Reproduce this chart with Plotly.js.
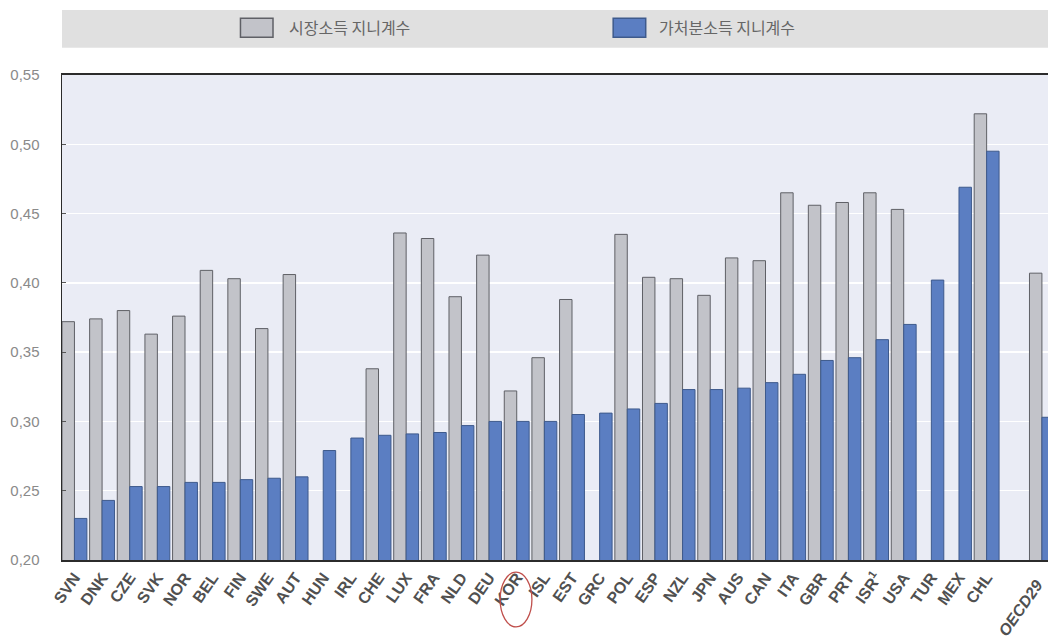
<!DOCTYPE html>
<html>
<head>
<meta charset="utf-8">
<script src="https://cdn.plot.ly/plotly-3.0.1.min.js"></script>
<style>
  html, body { margin: 0; padding: 0; overflow: hidden; background: #fff; }
  #chart { width: 1048px; height: 640px; }
</style>
</head>
<body>
<div id="chart"></div>
<script>
// Country codes in drawing order; the blank slot separates the OECD average.
const countries = ['SVN','DNK','CZE','SVK','NOR','BEL','FIN','SWE','AUT','HUN','IRL','CHE','LUX','FRA','NLD','DEU','KOR','ISL','EST','GRC','POL','ESP','NZL','JPN','AUS','CAN','ITA','GBR','PRT','ISR','USA','TUR','MEX','CHL',' ','OECD29'];

// Axis labels shown under each slot.
const tickLabels = ['SVN','DNK','CZE','SVK','NOR','BEL','FIN','SWE','AUT','HUN','IRL','CHE','LUX','FRA','NLD','DEU','KOR','ISL','EST','GRC','POL','ESP','NZL','JPN','AUS','CAN','ITA','GBR','PRT','ISR<sup>1</sup>','USA','TUR','MEX','CHL','','<i>OECD29</i>&nbsp;&nbsp;'];

// Gini coefficient of market income (before taxes and transfers).
const marketGini = [0.372,0.374,0.380,0.363,0.376,0.409,0.403,0.367,0.406,null,null,0.338,0.436,0.432,0.390,0.420,0.322,0.346,0.388,null,0.435,0.404,0.403,0.391,0.418,0.416,0.465,0.456,0.458,0.465,0.453,null,null,0.522,null,0.407];

// Gini coefficient of disposable income (after taxes and transfers).
const disposableGini = [0.230,0.243,0.253,0.253,0.256,0.256,0.258,0.259,0.260,0.279,0.288,0.290,0.291,0.292,0.297,0.300,0.300,0.300,0.305,0.306,0.309,0.313,0.323,0.323,0.324,0.328,0.334,0.344,0.346,0.359,0.370,0.402,0.469,0.495,null,0.303];

const seriesNames = ['시장소득 지니계수', '가처분소득 지니계수'];
const highlighted = 'KOR';

const seriesFill = ['#c2c3c9', '#5b7ec2'];
const seriesEdge = ['#5f6066', '#3e5a8c'];

const latinFont = 'Liberation Sans, Arial, sans-serif';
const narrowFont = 'Liberation Sans Narrow, Liberation Sans, Arial, sans-serif';
const koreanFont = 'Noto Sans CJK KR, sans-serif';

const traces = seriesNames.map((name, i) => ({
  type: 'bar',
  name: name,
  x: countries,
  y: i === 0 ? marketGini : disposableGini,
  marker: { color: seriesFill[i], line: { color: seriesEdge[i], width: 1 } },
  hoverinfo: 'x+y'
}));

const hi = countries.indexOf(highlighted);

// Legend: swatch boxes and captions placed in the grey band above the plot.
const swatchX = [[0.181, 0.214], [0.559, 0.592]];
const captionX = [0.228, 0.603];

const legendShapes = seriesNames.map((name, i) => ({
  type: 'rect', xref: 'paper', yref: 'paper',
  x0: swatchX[i][0], x1: swatchX[i][1], y0: 1.078, y1: 1.117,
  fillcolor: seriesFill[i], line: { color: seriesEdge[i], width: 1.5 }
}));

const legendCaptions = seriesNames.map((name, i) => ({
  xref: 'paper', yref: 'paper',
  x: captionX[i], y: 1.098, xanchor: 'left', yanchor: 'middle',
  text: name, showarrow: false,
  font: { family: koreanFont, size: 16, color: '#666' }
}));

const layout = {
  width: 1048,
  height: 640,
  margin: { l: 62, r: 0, t: 75, b: 80 },
  paper_bgcolor: '#ffffff',
  plot_bgcolor: '#eaecf5',
  separators: ', ',
  barmode: 'group',
  bargap: 0.1,
  bargroupgap: 0,
  showlegend: false,
  xaxis: {
    type: 'category',
    categoryorder: 'array',
    categoryarray: countries,
    tickvals: countries,
    ticktext: tickLabels,
    range: [-0.45, 35.22],
    tickangle: -55,
    tickfont: { family: latinFont, size: 16, color: '#505050', weight: 'bold' },
    showgrid: false,
    showline: true, mirror: true,
    linecolor: '#2b2b2b', linewidth: 2,
    ticks: '', zeroline: false
  },
  yaxis: {
    range: [0.2, 0.55],
    dtick: 0.05,
    tick0: 0.2,
    tickformat: '.2f',
    tickfont: { family: narrowFont, size: 15, color: '#8a8a8a' },
    ticklabelstandoff: 18,
    ticks: 'inside', ticklen: 4, tickcolor: '#555', tickwidth: 1,
    showgrid: true, gridcolor: '#ffffff', gridwidth: 1.5,
    showline: true, linecolor: '#2b2b2b', linewidth: 1.5,
    zeroline: false
  },
  shapes: [
    // grey legend band
    {
      type: 'rect', xref: 'paper', yref: 'paper',
      x0: 0, x1: 1, y0: 1.056, y1: 1.134,
      fillcolor: '#e0e0e0', line: { width: 0 }, layer: 'below'
    },
    ...legendShapes,
    // red ring around the highlighted country label
    {
      type: 'circle', xref: 'x', yref: 'paper',
      x0: hi - 0.6, x1: hi + 0.55, y0: -0.138, y1: -0.025,
      line: { color: '#c0504d', width: 1.3 }
    }
  ],
  annotations: legendCaptions
};

Plotly.newPlot('chart', traces, layout, { displayModeBar: false, staticPlot: true });
</script>
</body>
</html>
